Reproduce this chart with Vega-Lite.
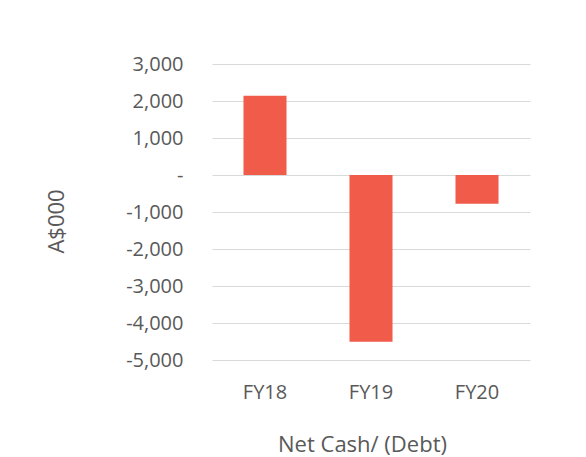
{
  "$schema": "https://vega.github.io/schema/vega-lite/v6.json",
  "width": 318,
  "height": 296,
  "autosize": "none",
  "padding": {"left": 212, "top": 64, "right": 56, "bottom": 97},
  "background": "white",
  "data": {"values": [
    {"year": "FY18", "value": 2145},
    {"year": "FY19", "value": -4510},
    {"year": "FY20", "value": -777}
  ]},
  "mark": {"type": "bar", "color": "#F15B4A"},
  "encoding": {
    "x": {
      "field": "year", "type": "nominal", "sort": null,
      "scale": {"paddingInner": 0.594, "paddingOuter": 0.297},
      "axis": {
        "title": "Net Cash/ (Debt)", "labelAngle": 0, "domain": false, "ticks": false,
        "labelFont": "Open Sans", "labelFontSize": 20, "labelColor": "#595959", "labelPadding": 22,
        "titleFont": "Open Sans", "titleFontSize": 22, "titleFontWeight": "normal", "titleColor": "#595959",
        "titleX": 150, "titleY": 84, "titleBaseline": "middle"
      }
    },
    "y": {
      "field": "value", "type": "quantitative",
      "scale": {"domain": [-5000, 3000], "nice": false, "zero": false},
      "axis": {
        "title": "A$000", "values": [-5000, -4000, -3000, -2000, -1000, 0, 1000, 2000, 3000],
        "labelExpr": "datum.value == 0 ? '-\u00a0\u00a0' : replace(format(datum.value, ','), '\u2212', '-')",
        "domain": false, "ticks": false, "gridColor": "#D9D9D9", "gridWidth": 1,
        "labelFont": "Open Sans", "labelFontSize": 20, "labelColor": "#595959", "labelPadding": 29,
        "titleFont": "Open Sans", "titleFontSize": 22, "titleFontWeight": "normal", "titleColor": "#595959",
        "titleX": -156, "titleY": 157, "titleBaseline": "middle"
      }
    }
  },
  "config": {"view": {"stroke": null}}
}
